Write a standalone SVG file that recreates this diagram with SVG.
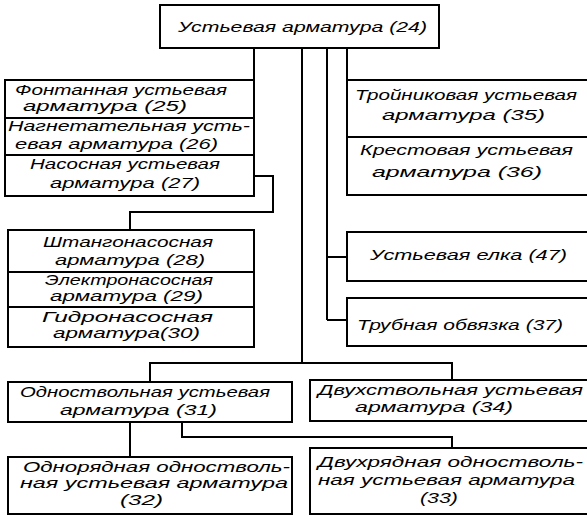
<svg xmlns="http://www.w3.org/2000/svg" width="587" height="516" viewBox="0 0 587 516">
<style>
.b{fill:#fff;stroke:#000;stroke-width:2}
.c{fill:none;stroke:#000;stroke-width:2}
text{font-family:"Liberation Sans",Arial,sans-serif;font-style:italic;font-size:14.5px;fill:#000}
</style>
<rect width="587" height="516" fill="#fff"/>
<g id="connectors">
<path class="c" d="M254 48V80M302 48V363M327 48V320M347 48V80"/>
<path class="c" d="M254 176H273V212H130V230"/>
<path class="c" d="M327 257H347M327 320H347"/>
<path class="c" d="M150 382V363H452V380"/>
<path class="c" d="M130 422V457M182 422V437H452V448"/>
</g>
<g id="n24"><rect class="b" x="160" y="5" width="279" height="43"/>
<text x="178" y="32" textLength="249" lengthAdjust="spacingAndGlyphs">Устьевая арматура (24)</text></g>
<g id="n25"><rect class="b" x="5" y="80" width="249" height="38"/>
<text x="15" y="95" textLength="212" lengthAdjust="spacingAndGlyphs">Фонтанная устьевая</text>
<text x="23" y="111" textLength="164" lengthAdjust="spacingAndGlyphs">арматура (25)</text></g>
<g id="n26"><rect class="b" x="5" y="118" width="249" height="37"/>
<text x="8" y="131" textLength="242" lengthAdjust="spacingAndGlyphs">Нагнетательная усть-</text>
<text x="15" y="149" textLength="203" lengthAdjust="spacingAndGlyphs">евая арматура (26)</text></g>
<g id="n27"><rect class="b" x="5" y="155" width="249" height="41"/>
<text x="30" y="169" textLength="190" lengthAdjust="spacingAndGlyphs">Насосная устьевая</text>
<text x="50" y="188" textLength="150" lengthAdjust="spacingAndGlyphs">арматура (27)</text></g>
<g id="n28"><rect class="b" x="8" y="230" width="246" height="42"/>
<text x="43" y="247" textLength="170" lengthAdjust="spacingAndGlyphs">Штангонасосная</text>
<text x="55" y="265" textLength="150" lengthAdjust="spacingAndGlyphs">арматура (28)</text></g>
<g id="n29"><rect class="b" x="8" y="272" width="246" height="35"/>
<text x="45" y="285" textLength="168" lengthAdjust="spacingAndGlyphs">Электронасосная</text>
<text x="50" y="301" textLength="153" lengthAdjust="spacingAndGlyphs">арматура (29)</text></g>
<g id="n30"><rect class="b" x="8" y="307" width="246" height="40"/>
<text x="42" y="322" textLength="171" lengthAdjust="spacingAndGlyphs">Гидронасосная</text>
<text x="53" y="338" textLength="147" lengthAdjust="spacingAndGlyphs">арматура(30)</text></g>
<g id="n35"><rect class="b" x="347" y="80" width="250" height="57"/>
<text x="355" y="100" textLength="222" lengthAdjust="spacingAndGlyphs">Тройниковая устьевая</text>
<text x="382" y="120" textLength="163" lengthAdjust="spacingAndGlyphs">арматура (35)</text></g>
<g id="n36"><rect class="b" x="347" y="137" width="250" height="58"/>
<text x="360" y="155" textLength="213" lengthAdjust="spacingAndGlyphs">Крестовая устьевая</text>
<text x="372" y="177" textLength="170" lengthAdjust="spacingAndGlyphs">арматура (36)</text></g>
<g id="n47"><rect class="b" x="347" y="232" width="250" height="49"/>
<text x="370" y="260" textLength="197" lengthAdjust="spacingAndGlyphs">Устьевая елка (47)</text></g>
<g id="n37"><rect class="b" x="347" y="298" width="250" height="48"/>
<text x="357" y="330" textLength="206" lengthAdjust="spacingAndGlyphs">Трубная обвязка (37)</text></g>
<g id="n31"><rect class="b" x="8" y="382" width="284" height="40"/>
<text x="20" y="397" textLength="250" lengthAdjust="spacingAndGlyphs">Одноствольная устьевая</text>
<text x="60" y="415" textLength="157" lengthAdjust="spacingAndGlyphs">арматура  (31)</text></g>
<g id="n34"><rect class="b" x="310" y="380" width="287" height="41"/>
<text x="318" y="395" textLength="265" lengthAdjust="spacingAndGlyphs">Двухствольная устьевая</text>
<text x="355" y="412" textLength="158" lengthAdjust="spacingAndGlyphs">арматура  (34)</text></g>
<g id="n32"><rect class="b" x="8" y="457" width="284" height="57"/>
<text x="23" y="472" textLength="267" lengthAdjust="spacingAndGlyphs">Однорядная  одностволь-</text>
<text x="20" y="488" textLength="268" lengthAdjust="spacingAndGlyphs">ная устьевая арматура</text>
<text x="120" y="505" textLength="43" lengthAdjust="spacingAndGlyphs">(32)</text></g>
<g id="n33"><rect class="b" x="310" y="448" width="287" height="66"/>
<text x="318" y="467" textLength="265" lengthAdjust="spacingAndGlyphs">Двухрядная одностволь-</text>
<text x="318" y="485" textLength="257" lengthAdjust="spacingAndGlyphs">ная устьевая арматура</text>
<text x="420" y="503" textLength="38" lengthAdjust="spacingAndGlyphs">(33)</text></g>
</svg>
